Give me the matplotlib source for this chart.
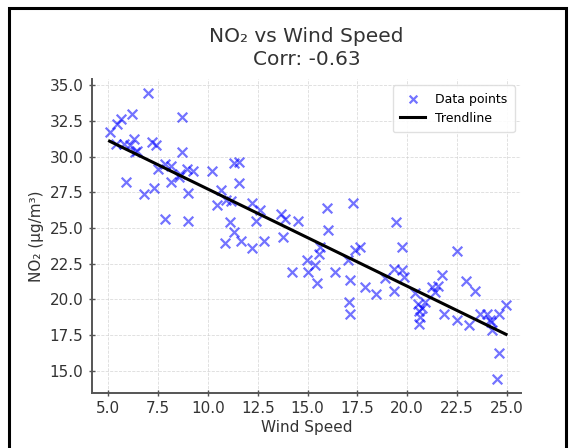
import numpy as np
import matplotlib.pyplot as plt
from matplotlib.patches import Rectangle

wind_speed = [5.06, 5.43, 5.65, 6.17, 6.97, 8.72, 5.39, 5.80, 6.27, 6.45,
              5.89, 7.20, 7.38, 7.47, 7.85, 8.13, 8.13, 8.60, 8.68, 8.96,
              9.24, 9.00, 6.77, 7.31, 7.85, 9.00, 10.21, 10.67, 10.45, 10.92,
              11.16, 11.31, 11.57, 11.57, 11.12, 11.29, 10.86, 11.68, 12.22, 12.83,
              12.22, 12.59, 12.40, 13.65, 13.89, 13.74, 14.54, 14.23, 14.97, 15.00,
              15.38, 15.47, 15.62, 15.59, 15.98, 16.03, 16.35, 17.30, 17.02, 17.15,
              17.06, 17.11, 17.39, 17.61, 17.89, 18.41, 18.86, 19.33, 19.33, 19.44,
              19.75, 19.75, 19.85, 20.40, 20.55, 20.59, 20.63, 20.59, 20.87, 20.74,
              21.24, 21.39, 21.52, 21.74, 21.86, 22.49, 22.51, 22.93, 23.10, 23.38,
              23.66, 23.99, 24.22, 24.27, 24.63, 24.96, 24.59, 24.53, 24.13, 6.08,
              6.36, 8.55]
no2 = [31.70, 32.28, 32.63, 32.98, 34.44, 32.79, 30.88, 30.88, 31.23, 30.42,
       28.21, 31.00, 30.84, 29.14, 29.49, 29.37, 28.21, 28.79, 30.30, 29.14,
       29.02, 27.44, 27.40, 27.79, 25.63, 25.49, 28.98, 27.63, 26.58, 26.93,
       26.86, 29.56, 29.65, 28.14, 25.42, 24.72, 23.95, 24.07, 23.63, 24.12,
       26.74, 26.23, 25.49, 25.95, 25.65, 24.37, 25.49, 21.93, 22.74, 21.93,
       22.40, 21.16, 23.67, 23.21, 26.40, 24.84, 21.93, 26.74, 22.74, 21.35,
       19.84, 18.95, 23.49, 23.67, 20.88, 20.37, 21.53, 22.16, 20.60, 25.42,
       23.67, 22.05, 21.58, 20.42, 19.67, 19.19, 18.74, 18.26, 19.84, 19.37,
       20.88, 20.53, 20.93, 21.70, 18.95, 23.40, 18.56, 21.28, 18.21, 20.58,
       18.95, 18.98, 18.44, 17.86, 18.95, 19.60, 16.23, 14.42, 18.56, 30.84,
       30.30, 28.56]

x_ticks = [5.0, 7.5, 10.0, 12.5, 15.0, 17.5, 20.0, 22.5, 25.0]
y_ticks = [15.0, 17.5, 20.0, 22.5, 25.0, 27.5, 30.0, 32.5, 35.0]

x = np.array(wind_speed)
y = np.array(no2)
slope, intercept = np.polyfit(x, y, 1)
corr = -0.63
x_line = np.array([x.min(), x.max()])

fig = plt.figure(figsize=(5.74, 4.48), dpi=100)
ax = fig.add_axes([0.160, 0.123, 0.748, 0.701])

ax.scatter(x, y, marker='x', color='blue', alpha=0.55, s=48, linewidths=1.6,
           label="Data points")
ax.plot(x_line, slope * x_line + intercept, color='black', linewidth=2.2,
        label="Trendline")

ax.set_xlim(4.17, 25.72)
ax.set_ylim(13.45, 35.45)
ax.set_xticks(x_ticks)
ax.set_yticks(y_ticks)

ax.set_title(f"NO₂ vs Wind Speed\nCorr: {corr:.2f}", fontsize=14.5, color='#333333',
             linespacing=1.25, pad=10)
ax.set_xlabel("Wind Speed", fontsize=11, color='#333333', labelpad=3)
ax.set_ylabel("NO₂ (μg/m³)", fontsize=11, color='#333333', labelpad=4)

ax.grid(True, linestyle='--', color='#cccccc', linewidth=0.6, alpha=0.7)
ax.set_axisbelow(True)
for side in ['top', 'right']:
    ax.spines[side].set_visible(False)
for side in ['left', 'bottom']:
    ax.spines[side].set_color('#555555')
    ax.spines[side].set_linewidth(1.4)
ax.tick_params(labelsize=11, labelcolor='#333333', color='#555555',
               direction='inout', length=5, width=1)

ax.legend(loc='upper right', fontsize=9, scatterpoints=1, markerscale=0.8,
          framealpha=0.9, edgecolor='#dddddd', borderpad=0.6, handlelength=2.0)

# black frame around the screenshot
fig.patches.append(Rectangle((9 / 574, -0.05), (566 - 9) / 574, 1.05 - 8 / 448,
                             transform=fig.transFigure, fill=False,
                             edgecolor='black', linewidth=2.2))

fig.savefig("out.png", dpi=100)
